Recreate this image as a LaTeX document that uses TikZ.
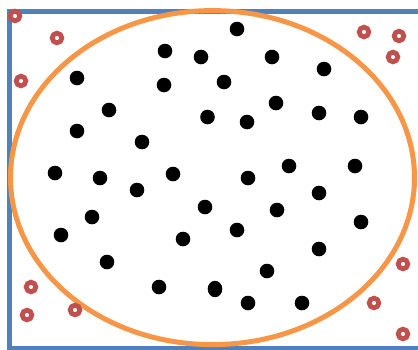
\documentclass[tikz,border=0pt]{standalone}
\usetikzlibrary{shapes.geometric}
\definecolor{frameblue}{HTML}{4F81BD}
\definecolor{ellorange}{HTML}{F79646}
\definecolor{ringred}{HTML}{C0504D}
\begin{document}
\begin{tikzpicture}[x=1pt,y=-1pt,
  dot/.style={circle,fill=black,inner sep=0pt,minimum size=14.6pt},
  ring/.style={circle,draw=ringred,line width=4.8pt,fill=white,inner sep=0pt,minimum size=9.6pt},
  frame/.style={draw=frameblue,line width=5pt},
  boundary/.style={draw=ellorange,line width=5pt}]
\useasboundingbox (0,0) rectangle (418,349);
\fill[white] (0,0) rectangle (418,349);
% frame
\draw[frame] (9.8,11.5) rectangle (420,348.5);
% ellipse
\draw[boundary] (212.5,177.6) ellipse [x radius=202, y radius=167];
% black dots
\foreach \n/\x/\y in {
 1/237/29, 2/165/51, 3/201/57, 4/272/57, 5/77/78, 6/164/85, 7/224/82, 8/324/69,
 9/109/110, 10/207.5/117, 11/247/122, 12/276/103, 13/319/113, 14/361/117,
 15/77/131, 16/142/142, 17/55/173, 18/100/178, 19/137/190, 20/173/174,
 21/248/178, 22/289/166, 23/355/166, 24/319/193, 25/92/217, 26/205/207,
 27/277/210, 28/361/222, 29/61/235, 30/183/239, 31/237/230, 32/319/249,
 33/107/262, 34/267/271, 35/159/287, 37/248/303, 38/302/303}
 \node[dot] (d\n) at (\x,\y) {};
\node[dot,ellipse,minimum width=14.6pt,minimum height=16.4pt] (d36) at (215,289) {};
% red rings
\foreach \n/\x/\y in {
 1/15/16, 2/57/38, 3/21/81, 4/364/32, 5/399/36, 6/393/57,
 7/31/287, 8/27/315, 9/75/310, 10/403/264, 11/374/303, 12/403/334}
 \node[ring] (r\n) at (\x,\y) {};
\end{tikzpicture}
\end{document}
